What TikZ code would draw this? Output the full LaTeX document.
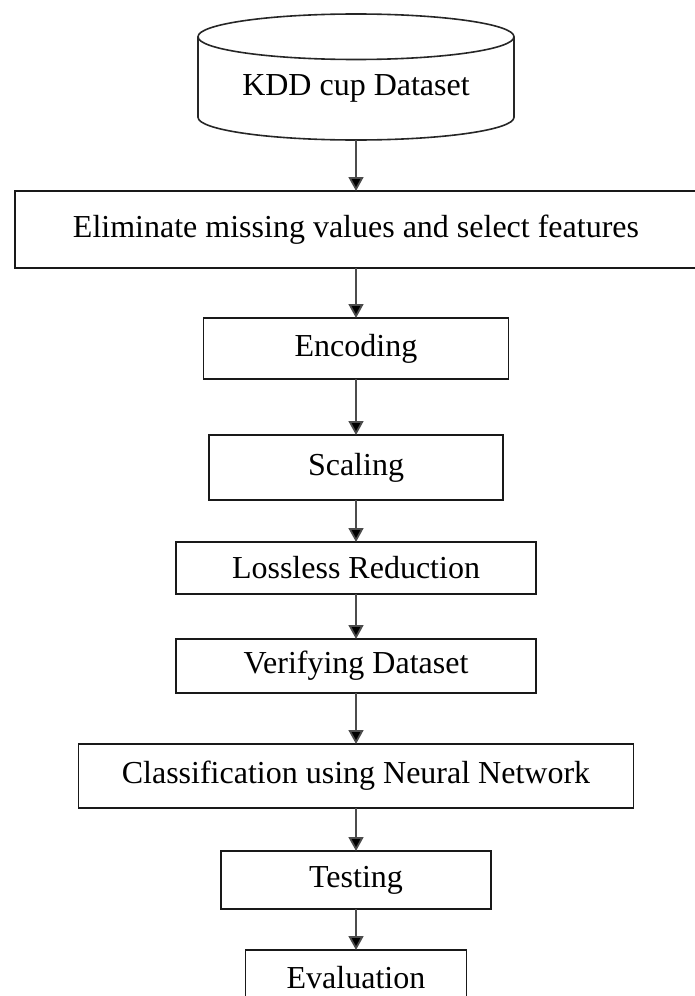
\documentclass[tikz,border=0pt]{standalone}
\usepackage{fontspec}
\setmainfont{Liberation Serif}
\usetikzlibrary{positioning, arrows.meta, shapes.geometric}

\tikzset{
  stepbox/.style={draw=black!90, line width=1.6pt, rectangle, inner sep=0pt, outer sep=0pt,
    font=\fontsize{32}{38}\selectfont},
  dbshape/.style={draw=black!85, line width=1.6pt, cylinder, shape border rotate=90,
    aspect=0.2, inner sep=0pt, outer sep=0pt, font=\fontsize{32}{38}\selectfont},
  flow/.style={draw=black!70, line width=1.8pt, -{Triangle[length=14pt, width=15pt, fill=black]}}
}

\begin{document}
\begin{tikzpicture}[x=1pt, y=-1pt]
        \useasboundingbox (0,0) rectangle (695,996);

        % data source
        \node[dbshape, minimum width=316pt, minimum height=126pt, anchor=north] (kdd) at (356,14) {KDD cup Dataset};

        % processing chain
        \node[stepbox, minimum width=682pt, minimum height=77pt, below=51pt of kdd] (clean) {Eliminate missing values and select features};
        \node[stepbox, minimum width=305pt, minimum height=61pt, below=50pt of clean] (enc) {Encoding};
        \node[stepbox, minimum width=294pt, minimum height=65pt, below=56pt of enc] (scale) {Scaling};
        \node[stepbox, minimum width=360pt, minimum height=52pt, below=42pt of scale] (reduce) {Lossless Reduction};
        \node[stepbox, minimum width=360pt, minimum height=54pt, below=45pt of reduce] (verify) {Verifying Dataset};
        \node[stepbox, minimum width=555pt, minimum height=64pt, below=51pt of verify] (nn) {Classification using Neural Network};
        \node[stepbox, minimum width=270pt, minimum height=58pt, below=43pt of nn] (test) {Testing};
        \node[stepbox, minimum width=221pt, minimum height=56pt, below=41pt of test] (eval) {Evaluation};

        \draw[flow] (kdd) -- (clean);
        \draw[flow] (clean) -- (enc);
        \draw[flow] (enc) -- (scale);
        \draw[flow] (scale) -- (reduce);
        \draw[flow] (reduce) -- (verify);
        \draw[flow] (verify) -- (nn);
        \draw[flow] (nn) -- (test);
        \draw[flow] (test) -- (eval);

    \end{tikzpicture}
\end{document}
